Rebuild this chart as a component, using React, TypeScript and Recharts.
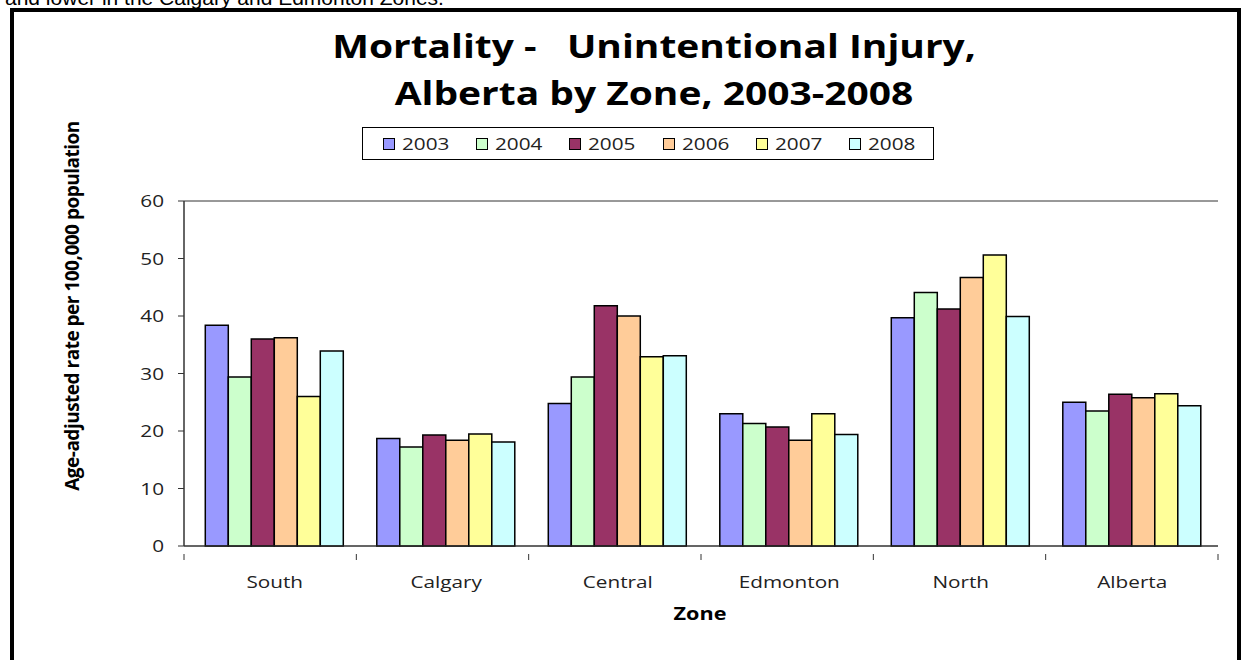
import * as React from 'react';
import {
  BarChart,
  Bar,
  XAxis,
  YAxis,
  CartesianGrid,
} from 'recharts';

// ============================================================================
// Data
// ============================================================================

const zones = ['South', 'Calgary', 'Central', 'Edmonton', 'North', 'Alberta'];
const years = ['2003', '2004', '2005', '2006', '2007', '2008'];

const rate2003 = [38.4, 18.7, 24.8, 23.0, 39.7, 25.0];
const rate2004 = [29.4, 17.2, 29.4, 21.3, 44.1, 23.5];
const rate2005 = [36.0, 19.3, 41.8, 20.7, 41.2, 26.4];
const rate2006 = [36.2, 18.4, 40.0, 18.4, 46.7, 25.8];
const rate2007 = [26.0, 19.5, 32.9, 23.0, 50.6, 26.5];
const rate2008 = [33.9, 18.1, 33.1, 19.4, 39.9, 24.4];

const yTicks = [0, 10, 20, 30, 40, 50, 60];

const seriesValues = [rate2003, rate2004, rate2005, rate2006, rate2007, rate2008];
const seriesColors = ['#9999ff', '#ccffcc', '#993366', '#ffcc99', '#ffff99', '#ccffff'];

const data = zones.map((zone, i) => {
  const row: Record<string, string | number> = { zone };
  years.forEach((y, s) => {
    row[y] = seriesValues[s][i];
  });
  return row;
});

// ============================================================================
// Layout
// ============================================================================

const PLOT_LEFT = 184;
const PLOT_RIGHT = 1218;
const PLOT_TOP = 201;
const PLOT_BOTTOM = 546;
const Y_AXIS_W = 60;
const X_AXIS_H = 30;
const BAND = (PLOT_RIGHT - PLOT_LEFT) / zones.length;

const labelFont = '"Open Sans", sans-serif';

/**
 * Category label plus a tick mark on the band's left edge (Excel style)
 */
function ZoneTick({ x, y, payload, index }: any) {
  const left = PLOT_LEFT + index * BAND;
  return (
    <g>
      <line x1={left} y1={y} x2={left} y2={y + 6} stroke="#333" />
      {index === zones.length - 1 && (
        <line x1={PLOT_RIGHT} y1={y} x2={PLOT_RIGHT} y2={y + 6} stroke="#333" />
      )}
      <text
        transform={`translate(${x},${y + 34}) scale(1.22,1)`}
        textAnchor="middle"
        fontFamily={labelFont}
        fontSize={17}
        fill="#222"
      >
        {payload.value}
      </text>
    </g>
  );
}

function RateTick({ x, y, payload }: any) {
  return (
    <text
      transform={`translate(${x - 12},${y + 6}) scale(1.22,1)`}
      textAnchor="end"
      fontFamily={labelFont}
      fontSize={17}
      fill="#222"
    >
      {payload.value}
    </text>
  );
}

// ============================================================================
// Component
// ============================================================================

export default function App() {
  return (
    <div
      style={{
        position: 'absolute',
        left: 0,
        top: 0,
        width: 1245,
        height: 660,
        overflow: 'hidden',
        background: '#fff',
      }}
    >
      {/* outer frame */}
      <div
        style={{
          position: 'absolute',
          left: 10,
          top: 8,
          width: 1231,
          height: 700,
          border: '4px solid #000',
          boxSizing: 'border-box',
        }}
      />

      {/* cropped sentence from the page above the chart */}
      <div
        style={{
          position: 'absolute',
          left: 5,
          top: -14,
          fontFamily: '"Liberation Sans", Arial, sans-serif',
          fontSize: 21,
          lineHeight: '24px',
          color: '#000',
          whiteSpace: 'nowrap',
          zIndex: 2,
        }}
      >
        and lower in the Calgary and Edmonton Zones.
      </div>

      {/* title */}
      <div
        style={{
          position: 'absolute',
          left: 654,
          top: 22,
          transform: 'translateX(-50%) scaleX(1.18)',
          textAlign: 'center',
          fontFamily: labelFont,
          fontWeight: 700,
          fontSize: 33,
          lineHeight: '47px',
          color: '#000',
          whiteSpace: 'pre',
        }}
      >
        {'Mortality -   Unintentional Injury,\nAlberta by Zone, 2003-2008'}
      </div>

      {/* legend */}
      <div
        style={{
          position: 'absolute',
          left: 362,
          top: 127,
          width: 572,
          height: 33,
          border: '1px solid #000',
          boxSizing: 'border-box',
          fontFamily: labelFont,
          fontSize: 17,
          color: '#222',
        }}
      >
        {years.map((y, i) => (
          <span
            key={y}
            style={{
              position: 'absolute',
              left: 20 + i * 93.2,
              top: 0,
              height: 31,
              display: 'flex',
              alignItems: 'center',
              gap: 7,
            }}
          >
            <span
              style={{
                width: 12,
                height: 12,
                background: seriesColors[i],
                border: '1.5px solid #000',
                boxSizing: 'border-box',
                display: 'inline-block',
              }}
            />
            <span
              style={{
                display: 'inline-block',
                transform: 'scaleX(1.22)',
                transformOrigin: 'left center',
              }}
            >
              {y}
            </span>
          </span>
        ))}
      </div>

      {/* y-axis title */}
      <div
        style={{
          position: 'absolute',
          left: 72,
          top: 306,
          transform: 'translate(-50%, -50%) rotate(-90deg)',
          fontFamily: labelFont,
          fontWeight: 700,
          fontSize: 19,
          letterSpacing: -0.5,
          whiteSpace: 'nowrap',
          color: '#000',
        }}
      >
        Age-adjusted rate per 100,000 population
      </div>

      {/* x-axis title */}
      <div
        style={{
          position: 'absolute',
          left: 700,
          top: 613,
          transform: 'translate(-50%, -50%) scaleX(1.2)',
          fontFamily: labelFont,
          fontWeight: 700,
          fontSize: 18,
          color: '#000',
        }}
      >
        Zone
      </div>

      <div style={{ position: 'absolute', left: 0, top: 0 }}>
        <BarChart
          width={1245}
          height={660}
          data={data}
          margin={{
            top: PLOT_TOP,
            right: 1245 - PLOT_RIGHT,
            bottom: 660 - PLOT_BOTTOM - X_AXIS_H,
            left: PLOT_LEFT - Y_AXIS_W,
          }}
          barCategoryGap="9.5%"
          barGap={0}
        >
          <CartesianGrid vertical={false} stroke="#333" strokeWidth={1} />
          <XAxis
            dataKey="zone"
            height={X_AXIS_H}
            padding={{ left: 5, right: 0 }}
            axisLine={{ stroke: '#333' }}
            tickLine={false}
            tick={<ZoneTick />}
            interval={0}
          />
          <YAxis
            yAxisId="left"
            width={Y_AXIS_W}
            domain={[0, 60]}
            ticks={yTicks}
            axisLine={{ stroke: '#333', strokeWidth: 1.5 }}
            tickLine={{ stroke: '#333' }}
            tickSize={6}
            tick={<RateTick />}
            interval={0}
          />
          <YAxis
            yAxisId="right"
            orientation="right"
            width={0}
            domain={[0, 60]}
            ticks={yTicks}
            axisLine={{ stroke: '#888' }}
            tick={false}
            tickLine={false}
          />
          {years.map((y, i) => (
            <Bar
              key={y}
              yAxisId="left"
              dataKey={y}
              fill={seriesColors[i]}
              stroke="#000"
              strokeWidth={1.5}
              isAnimationActive={false}
            />
          ))}
        </BarChart>
      </div>
    </div>
  );
}
